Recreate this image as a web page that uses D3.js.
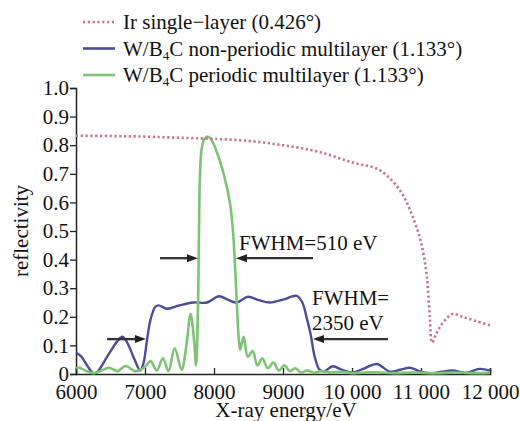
<!DOCTYPE html>
<html><head><meta charset="utf-8">
<script src="https://cdn.jsdelivr.net/npm/d3@7"></script>
<style>body{margin:0;background:#fff}svg{display:block}</style>
</head><body><svg id="c" width="520" height="421" font-family="Liberation Serif"></svg>
<script>
// ---- data ----
const xTicks = [6000,7000,8000,9000,10000,11000,12000];
const xTickLabels = ["6000","7000","8000","9000","10 000","11 000","12 000"];
const yTicks = [0,0.1,0.2,0.3,0.4,0.5,0.6,0.7,0.8,0.9,1.0];
const yTickLabels = ["0","0.1","0.2","0.3","0.4","0.5","0.6","0.7","0.8","0.9","1.0"];

const irEnergy = [6000,6500,7000,7500,8000,8500,9000,9500,10000,10400,10700,10880,11000,11070,11100,11130,11160,11220,11320,11460,11600,11800,12000];
const irValues = [0.833,0.832,0.830,0.826,0.822,0.815,0.800,0.778,0.740,0.713,0.640,0.550,0.460,0.370,0.300,0.190,0.110,0.140,0.180,0.210,0.200,0.185,0.170];

const npEnergy = [6000,6080,6160,6250,6300,6450,6600,6670,6730,6850,6930,6980,7030,7080,7150,7200,7320,7500,7700,7900,8070,8200,8330,8490,8650,8810,9000,9200,9280,9350,9400,9460,9530,9600,9720,9850,10000,10180,10360,10550,10700,10840,11000,11150,11300,11460,11650,11850,12000];
const npValues = [0.075,0.060,0.030,0.003,0.005,0.060,0.115,0.130,0.115,0.050,0.012,0.040,0.120,0.190,0.235,0.240,0.228,0.240,0.250,0.250,0.272,0.260,0.250,0.270,0.258,0.250,0.260,0.273,0.250,0.190,0.140,0.060,0.015,0.010,0.027,0.015,0.005,0.020,0.035,0.008,0.015,0.022,0.008,0.002,0.008,0.012,0.004,0.018,0.012];

const pEnergy = [6000,6050,6150,6250,6350,6480,6600,6720,6850,6920,7000,7080,7170,7260,7340,7430,7530,7600,7660,7710,7740,7765,7780,7795,7820,7860,7910,7960,8050,8150,8230,8275,8300,8330,8360,8380,8430,8490,8560,8630,8700,8780,8860,8940,9020,9100,9180,9260,9350,9450,9550,9700,9850,10000,10300,10600,10900,11200,11500,11800,12000];
const pValues = [0.020,0.022,0.010,0.003,0.010,0.022,0.010,0.028,0.010,0.012,0.025,0.045,0.012,0.055,0.010,0.090,0.015,0.100,0.210,0.120,0.030,0.200,0.450,0.680,0.785,0.822,0.830,0.820,0.770,0.690,0.600,0.500,0.400,0.250,0.120,0.085,0.130,0.060,0.080,0.030,0.055,0.020,0.040,0.012,0.030,0.010,0.020,0.005,0.012,0.004,0.010,0.005,0.008,0.003,0.006,0.003,0.005,0.003,0.005,0.003,0.004];

const seriesNames = ["Ir single\u2212layer (0.426\u00b0)","W/B|4|C non-periodic multilayer (1.133\u00b0)","W/B|4|C periodic multilayer (1.133\u00b0)"];
// annotation arrows: [tailEnergy, headEnergy, reflectivity]
const arrows = [[6450,7014,0.122],[7217,7768,0.405],[9435,8319,0.405],[10522,9435,0.122]];
const notes = [{t:"FWHM=510 eV",e:8362,v:0.433},{t:"FWHM=",e:9420,v:0.24},{t:"2350 eV",e:9420,v:0.154}];

// ---- drawing ----
const FONT = "Liberation Serif";
const svg = d3.select("#c");
const x = d3.scaleLinear().domain([6000,12000]).range([76,490]);
const y = d3.scaleLinear().domain([0,1]).range([374,88]);
const colors = ["#c9718c","#4c4c98","#7cc474"];

const xAxis = svg.append("g").attr("transform","translate(0,374)")
  .call(d3.axisBottom(x).tickValues(xTicks).tickSize(-6).tickPadding(10)
    .tickFormat((d,i)=>xTickLabels[i]));
const yAxis = svg.append("g").attr("transform","translate(76,0)")
  .call(d3.axisLeft(y).tickValues(yTicks).tickSize(6).tickPadding(1)
    .tickFormat((d,i)=>yTickLabels[i]));
[xAxis,yAxis].forEach(g=>{
  g.attr("font-family",FONT).attr("font-size",21);
  g.select(".domain").attr("stroke","#222").attr("stroke-width",1.5);
  g.selectAll(".tick line").attr("stroke","#222").attr("stroke-width",1.3);
  g.selectAll(".tick text").attr("font-family",FONT).attr("font-size",21).attr("fill","#111");
});

const line = d3.line().x(d=>x(d[0])).y(d=>y(d[1])).curve(d3.curveCatmullRom.alpha(0.5));
const zip = (a,b)=>a.map((v,i)=>[v,b[i]]);
svg.append("path").datum(zip(npEnergy,npValues)).attr("d",line)
  .attr("fill","none").attr("stroke",colors[1]).attr("stroke-width",2.4);
svg.append("path").datum(zip(pEnergy,pValues)).attr("d",line)
  .attr("fill","none").attr("stroke",colors[2]).attr("stroke-width",2.6);
svg.append("path").datum(zip(irEnergy,irValues)).attr("d",line)
  .attr("fill","none").attr("stroke",colors[0]).attr("stroke-width",2.6).attr("stroke-dasharray","2.2,2.6");

// arrows
arrows.forEach(a=>{
  const x1=x(a[0]), x2=x(a[1]), yy=y(a[2]);
  const dir = Math.sign(x2-x1);
  svg.append("line").attr("x1",x1).attr("x2",x2-dir*8).attr("y1",yy).attr("y2",yy)
    .attr("stroke","#333").attr("stroke-width",2.4);
  svg.append("path").attr("d",`M${x2},${yy}L${x2-dir*11},${yy-4}L${x2-dir*11},${yy+4}Z`).attr("fill","#222");
});
notes.forEach(n=>{
  svg.append("text").attr("x",x(n.e)).attr("y",y(n.v)).attr("font-size",21).attr("font-family",FONT).attr("fill","#111").text(n.t);
});

// axis titles
svg.append("text").attr("x",286).attr("y",417).attr("text-anchor","middle").attr("font-size",21).attr("font-family",FONT).attr("fill","#111").text("X-ray energy/eV");
svg.append("text").attr("transform","translate(28,231) rotate(-90)").attr("text-anchor","middle").attr("font-size",21).attr("font-family",FONT).attr("fill","#111").text("reflectivity");

// legend
const lg = svg.append("g");
seriesNames.forEach((name,i)=>{
  const yy = 22 + i*26.5;
  const l = lg.append("line").attr("x1",83).attr("x2",115).attr("y1",yy).attr("y2",yy)
    .attr("stroke",colors[i]).attr("stroke-width",2.6);
  if(i===0) l.attr("stroke-dasharray","2.2,2.6");
  const t = lg.append("text").attr("x",123).attr("y",yy+7).attr("font-size",21).attr("font-family",FONT).attr("fill","#111");
  const parts = name.split("|");
  parts.forEach((p,k)=>{
    const ts = t.append("tspan").text(p);
    if(k===1) ts.attr("font-size",13).attr("dy",4);
    if(k===2) ts.attr("dy",-4);
  });
});
</script></body></html>
